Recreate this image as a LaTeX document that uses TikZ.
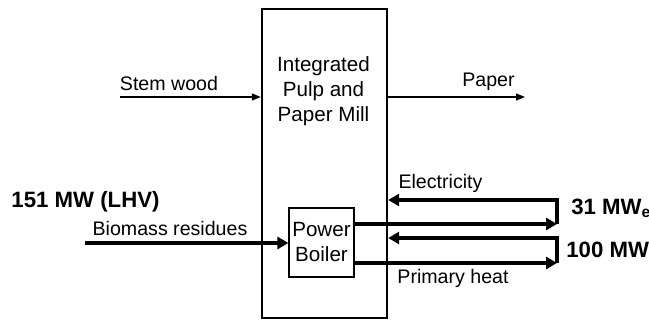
\documentclass[tikz,border=0pt]{standalone}
\usepackage{fontspec}
\setmainfont{Liberation Sans}
\usetikzlibrary{arrows.meta,positioning}

\begin{document}
\begin{tikzpicture}[
  x=0.5pt,y=-0.5pt,
  font=\fontsize{9.8}{12.5}\selectfont,
  millbox/.style={draw,line width=1.2pt,minimum width=62.5pt,
                  minimum height=154.5pt,inner sep=0pt},
  boilerbox/.style={draw,line width=0.6pt,minimum width=32.5pt,
                    minimum height=34.5pt,inner sep=0pt,align=center,
                    font=\fontsize{10.3}{12.5}\selectfont},
  txt/.style={inner sep=0pt,align=center},
  val/.style={inner sep=0pt,anchor=west,font=\fontsize{11.1}{13}\selectfont\bfseries},
  feed/.style={line width=0.6pt,-{Triangle[length=4.5pt,width=3.5pt]}},
  flow/.style={line width=2pt,-{Triangle[length=5.5pt,width=6pt]}}]
\useasboundingbox (0,0) rectangle (649,320);
% boxes
\node[millbox] (mill) at (324.5,163.75) {};
\node[txt,font=\fontsize{10.3}{12.5}\selectfont] (milltxt) at (323.5,91)
  {Integrated\\Pulp and\\Paper Mill};
\node[boilerbox] (boiler) at (321.5,242.5) {Power\\Boiler};
% free ends of the flows
\coordinate (swin) at (120,97);
\coordinate (paperout) at (525,97);
\coordinate (bmin) at (85,243);
\coordinate (elA) at (557,224);
\coordinate (elB) at (557,200);
\coordinate (htA) at (557,263);
\coordinate (htB) at (557,238);
% thin flows
\draw[feed] (swin) -- (swin -| mill.west);
\draw[feed] (paperout -| mill.east) -- (paperout);
% thick flows
\draw[flow] (bmin) -- (bmin -| boiler.west);
\draw[flow] (elA -| boiler.east) -- (elA);
\draw[flow] (elA) -- (elB) -- (elB -| mill.east);
\draw[flow] (htA -| boiler.east) -- (htA);
\draw[flow] (htA) -- (htB) -- (htB -| mill.east);
% labels
\node[txt] (swlbl) at (169,83) {Stem wood};
\node[txt] (paperlbl) at (488.5,82) {Paper};
\node[txt] (bmlbl) at (170,228) {Biomass residues};
\node[txt] (ellbl) at (440.5,183) {Electricity};
\node[txt] (htlbl) at (453,278) {Primary heat};
\node[val,anchor=center] (bmval) at (85.5,202) {151 MW (LHV)};
\node[val] (elval) at (571,208) {31 MW\textsubscript{e}};
\node[val] (htval) at (566,250) {100 MW};
\end{tikzpicture}
\end{document}
